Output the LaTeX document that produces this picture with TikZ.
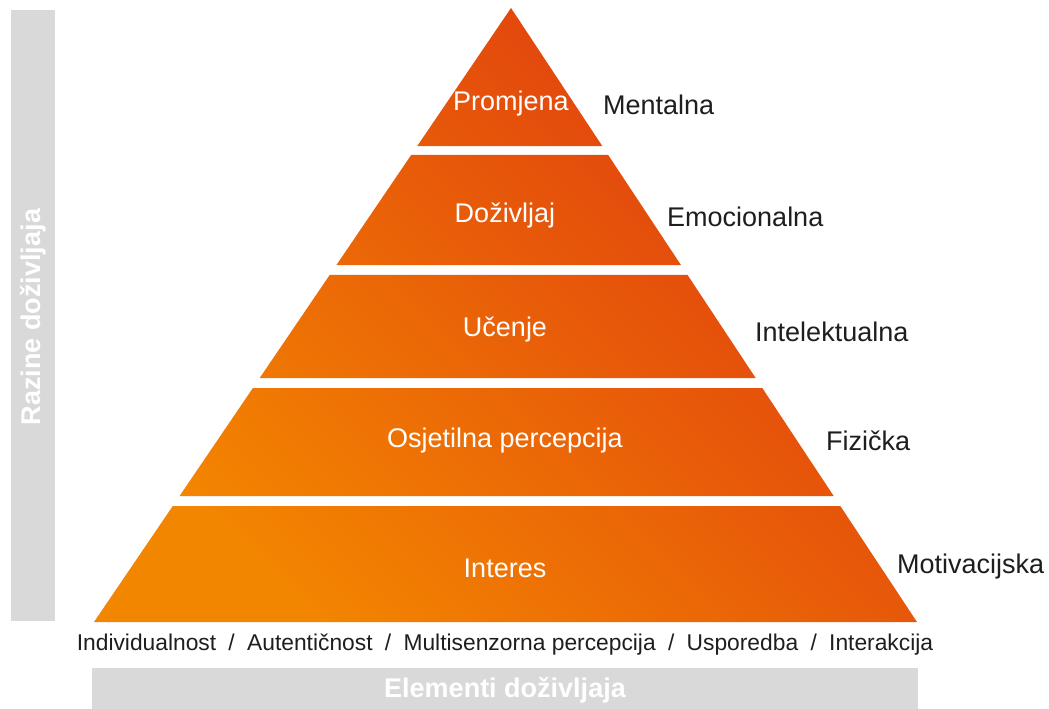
\documentclass[tikz,border=0pt]{standalone}
\usepackage{fontspec}
\setmainfont{Liberation Sans}
\usetikzlibrary{calc}
\definecolor{pyrOrange}{HTML}{F38600}
\definecolor{pyrRed}{HTML}{DF3A10}
\definecolor{barGray}{HTML}{D9D9D9}
\definecolor{ink}{HTML}{1E1E1E}
% one band of the pyramid, between two fractions of the way from the apex to the base
\newcommand\pyrband[2]{($(apex)!#1!(bl)$) -- ($(apex)!#2!(bl)$) -- ($(apex)!#2!(br)$) -- ($(apex)!#1!(br)$) -- cycle}
\newcommand\elemsep{\hspace{0.54em}/\hspace{0.54em}}
\begin{document}
\begin{tikzpicture}[x=1pt,y=-1pt,
  bandlabel/.style={text=white, font=\fontsize{27}{32}\selectfont, inner sep=0pt},
  levellabel/.style={text=ink, font=\fontsize{27}{32}\selectfont, anchor=west, inner sep=0pt},
  bartext/.style={text=white, font=\bfseries\fontsize{27}{32}\selectfont, inner sep=0pt},
  graybar/.style={fill=barGray, draw=none}]
\useasboundingbox (0,0) rectangle (1049,709);
\fill[white] (0,0) rectangle (1049,709);

% side and bottom bars
\fill[graybar] (11,10) rectangle (55,621);
\fill[graybar] (92,668) rectangle (918,709);
\node[bartext, rotate=90] (levels) at (33,317) {Razine doživljaja};
\node[bartext] (elements) at (505,690) {Elementi doživljaja};

% pyramid outline
\coordinate (apex) at (511,8);
\coordinate (bl) at (94,622);
\coordinate (br) at (917,622);

\begin{scope}
  \clip \pyrband{0}{0.22476}
        \pyrband{0.23941}{0.41857}
        \pyrband{0.43485}{0.60261}
        \pyrband{0.61889}{0.79479}
        \pyrband{0.81107}{1};
  \shade[left color=pyrOrange, right color=pyrRed, shading angle=135]
    (94,8) rectangle (917,622);
\end{scope}

% band labels
\node[bandlabel] (b1) at (511,104) {Promjena};
\node[bandlabel] (b2) at (505,215) {Doživljaj};
\node[bandlabel] (b3) at (505,329) {Učenje};
\node[bandlabel] (b4) at (505,441) {Osjetilna percepcija};
\node[bandlabel] (b5) at (505,568) {Interes};

% level labels
\node[levellabel] (l1) at (603,105) {Mentalna};
\node[levellabel] (l2) at (667,217) {Emocionalna};
\node[levellabel] (l3) at (755,332) {Intelektualna};
\node[levellabel] (l4) at (826,441) {Fizička};
\node[levellabel] (l5) at (897,567) {Motivacijska};

% experience elements
\node[text=ink, font=\fontsize{22.8}{27}\selectfont, inner sep=0pt] (elems) at (505,645)
  {Individualnost\elemsep Autentičnost\elemsep Multisenzorna percepcija\elemsep Usporedba\elemsep Interakcija};
\end{tikzpicture}
\end{document}
